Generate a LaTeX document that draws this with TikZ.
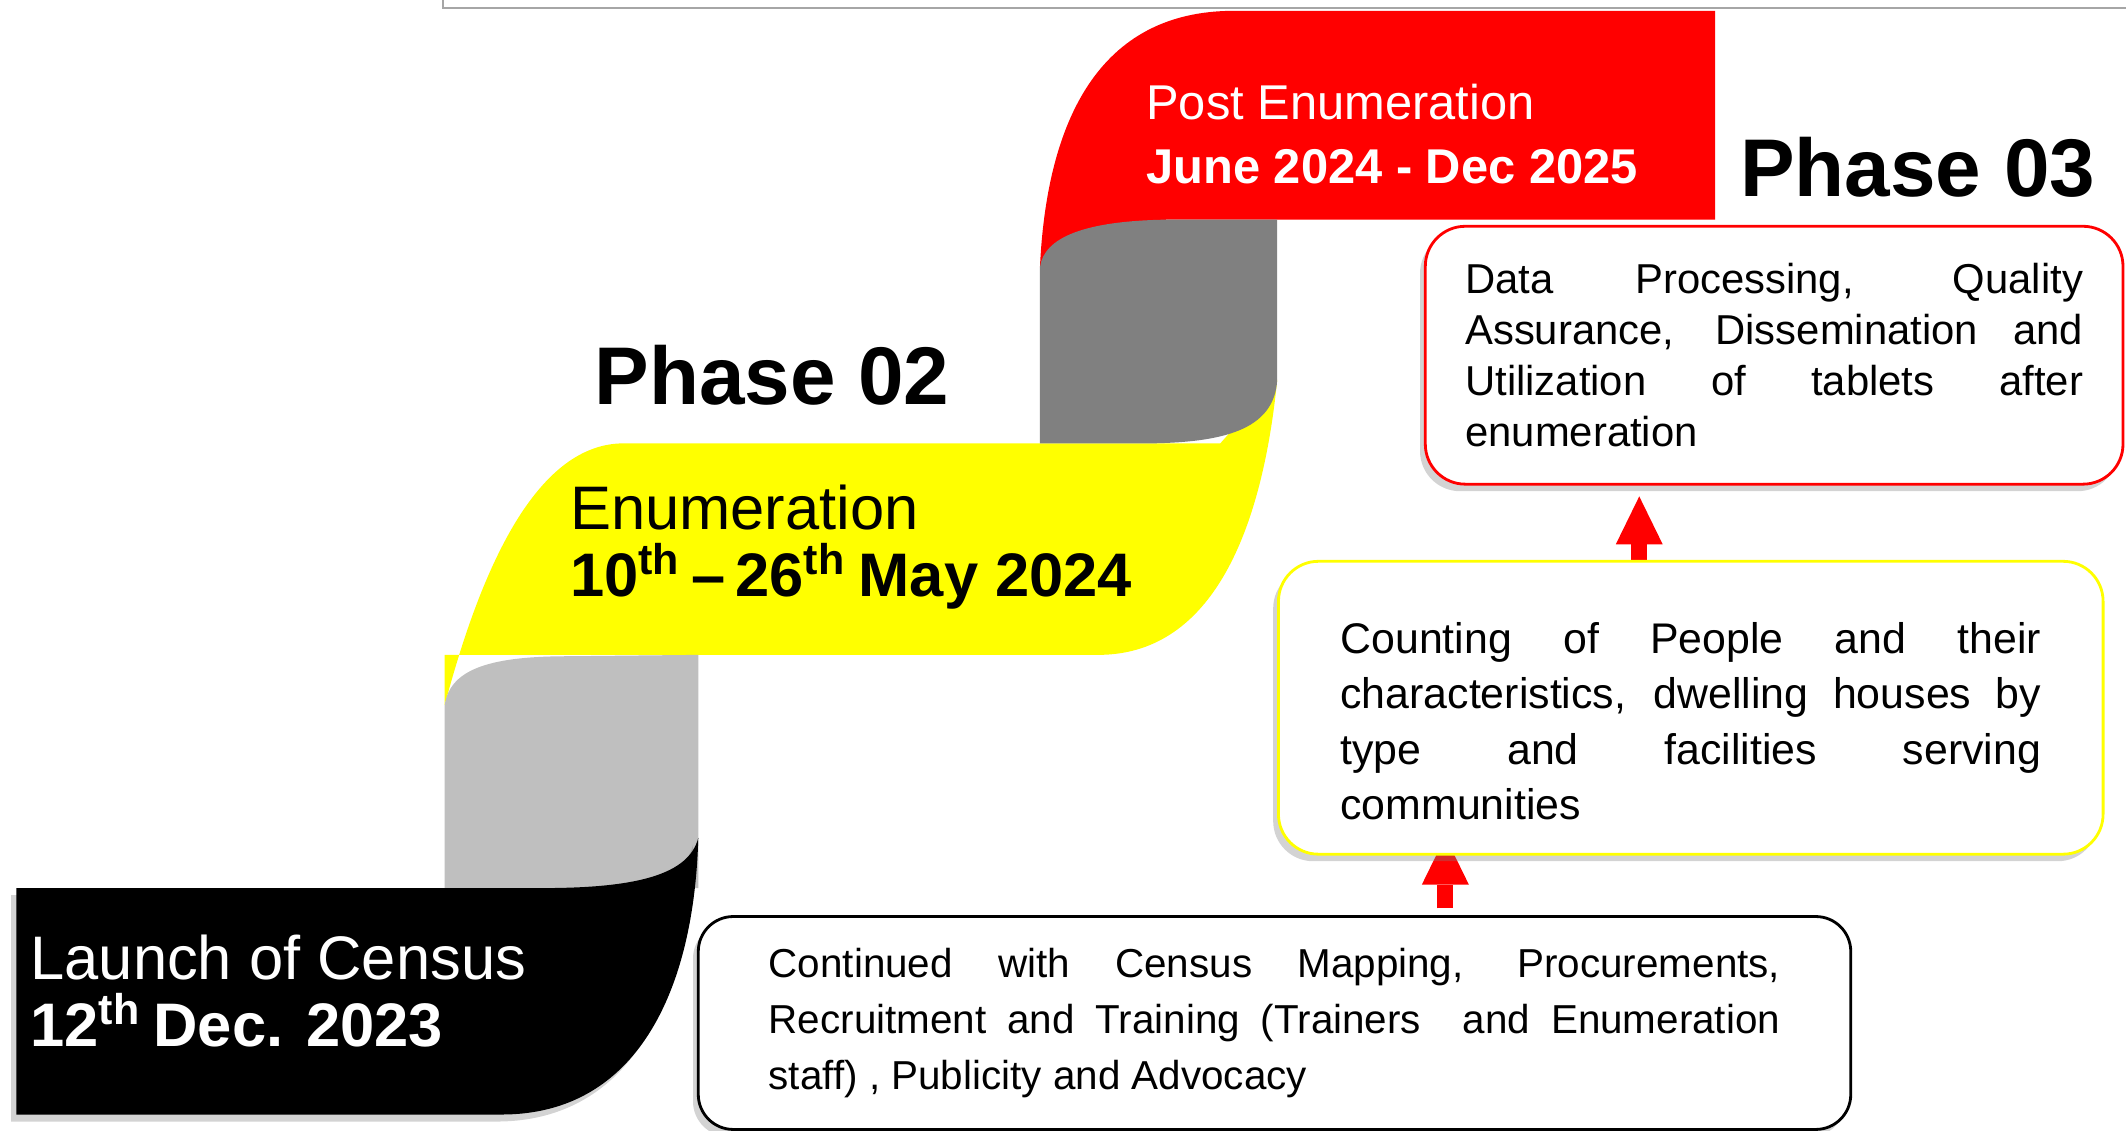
\documentclass[tikz,border=0pt]{standalone}
\usepackage{fontspec}
\setmainfont{Liberation Sans}
\usetikzlibrary{calc,shadows,arrows.meta}
\pgfdeclarelayer{background}
\pgfsetlayers{background,main}
\definecolor{lightgrey}{HTML}{BFBFBF}
\definecolor{darkgrey}{HTML}{808080}
\definecolor{pureyellow}{HTML}{FFFF00}
\definecolor{purered}{HTML}{FF0000}
\definecolor{framegrey}{HTML}{A6A6A6}

\begin{document}
\begin{tikzpicture}[x=0.01356cm, y=-0.01356cm,
  title/.style={font=\fontsize{17.5}{19.2}\selectfont, align=left, anchor=base west, inner sep=0pt},
  phase/.style={font=\fontsize{23.3}{26}\selectfont\bfseries, anchor=base west, inner sep=0pt},
  infobox/.style={draw, line width=0.8pt, rounded corners=0.4cm, fill=white, align=justify, inner sep=0pt,
    drop shadow={shadow xshift=-1.5pt, shadow yshift=-2pt, opacity=0.35}},
  uparrow/.style={draw=purered, line width=0.16cm, -{Triangle[width=0.47cm, length=0.48cm, line width=0pt]}}
]
\useasboundingbox (0,0) rectangle (1568,834);
\draw[framegrey, line width=0.6pt] (327,0) -- (327,6) -- (1568,6);

\fill[purered] (767,197) .. controls (772,90) and (810,8) .. (910,8) -- (1265,8) -- (1265,162) -- (860,162) -- cycle;
\fill[pureyellow] (328,520) .. controls (352,430) and (392,327) .. (460,327) -- (900,327) -- (942,280)
  .. controls (930,400) and (890,483) .. (810,483) -- (328,483) -- cycle;
\fill[darkgrey] (767,327) -- (767,197) .. controls (770,175) and (800,163) .. (860,162) -- (942,162) -- (942,280)
  .. controls (940,318) and (900,326) .. (850,327) -- cycle;
\fill[lightgrey] (328,655) -- (328,520) .. controls (332,492) and (365,484) .. (420,484) -- (515,483) -- (515,655) -- cycle;
\fill[black, drop shadow={shadow xshift=-1.5pt, shadow yshift=-2pt, opacity=0.35}] (12,655) -- (400,655)
  .. controls (470,655) and (508,645) .. (515,618) .. controls (512,730) and (470,822) .. (370,822) -- (12,822) -- cycle;

\node[title, text=white] (launch) at (22,772) {Launch of Census\\\textbf{12\textsuperscript{th}\hspace{0.2em}Dec. 2023}};
\node[title] (enum) at (420,440) {Enumeration\\\textbf{10\textsuperscript{th}\,–\,26\textsuperscript{th}\hspace{0.2em}May 2024}};
\node[title, text=white, font=\fontsize{13.9}{18.1}\selectfont] (post) at (845,135) {Post Enumeration\\\textbf{June 2024 - Dec 2025}};
\node[phase] (ph2) at (438,298) {Phase 02};
\node[phase] (ph3) at (1283,145) {Phase 03};

\node[infobox, draw=purered, minimum width=6.98cm, minimum height=2.58cm, text width=6.18cm,
  font=\fontsize{11.9}{14.5}\selectfont] (data) at (1308.5,262)
  {Data Processing, Quality\linebreak Assurance, Dissemination and\linebreak Utilization of tablets after\linebreak enumeration};
\node[infobox, draw=pureyellow, minimum width=8.25cm, minimum height=2.93cm, text width=7.01cm,
  font=\fontsize{12.2}{15.8}\selectfont] (cnt) at (1247,522)
  {\rule{0pt}{0.58cm}Counting of People and their\linebreak characteristics, dwelling houses by\linebreak type and facilities serving\linebreak communities};
\node[infobox, draw=black, rounded corners=0.35cm, minimum width=11.53cm, minimum height=2.13cm, text width=10.12cm,
  font=\fontsize{11.5}{16}\selectfont] (plan) at (940,754.5)
  {Continued with Census Mapping, Procurements,\linebreak Recruitment and Training (Trainers\ \ and Enumeration\linebreak staff) , Publicity and Advocacy\hspace*{0.18cm}};

\begin{pgfonlayer}{background}
\draw[uparrow] ($(plan.north)+(126,-5)$) -- ($(cnt.south)+(-181,-14)$);
\draw[uparrow] ($(cnt.north)+(-38,1)$) -- ($(data.south)+(-99.5,8)$);
\end{pgfonlayer}
\end{tikzpicture}
\end{document}
